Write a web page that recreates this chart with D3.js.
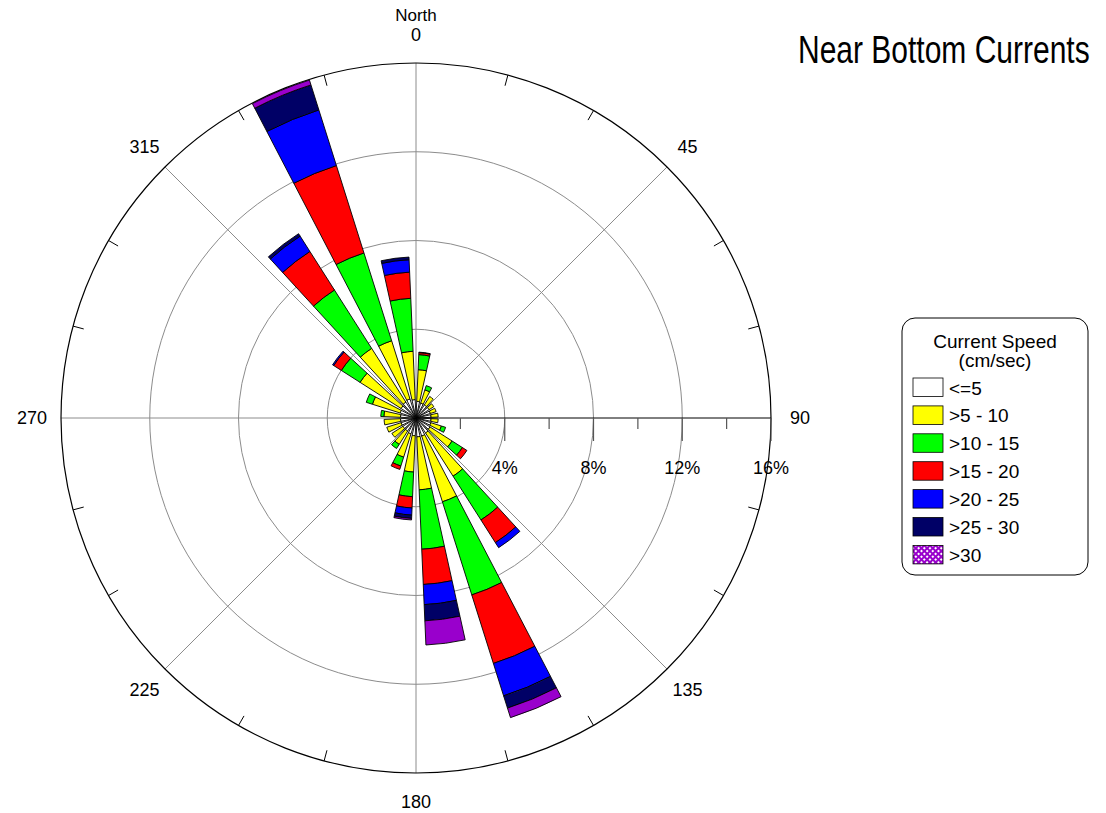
<!DOCTYPE html>
<html>
<head>
<meta charset="utf-8">
<script src="https://cdn.jsdelivr.net/npm/d3@7"></script>
<style>
  html, body { margin: 0; padding: 0; background: #fff; }
  svg { display: block; font-family: "Liberation Sans", Arial, sans-serif; }
</style>
</head>
<body>
<svg id="chart" width="1106" height="813"></svg>
<script>
// ---- data (percent of observations per direction bin and speed class) ----
const directions = [7.5, 22.5, 37.5, 52.5, 67.5, 82.5, 97.5, 112.5, 127.5, 142.5, 157.5, 172.5,
                    187.5, 202.5, 217.5, 232.5, 247.5, 262.5, 277.5, 292.5, 307.5, 322.5, 337.5, 352.5];
const speedClasses = ["<=5", ">5 - 10", ">10 - 15", ">15 - 20", ">20 - 25", ">25 - 30", ">30"];
const classColors  = ["#ffffff", "#ffff00", "#00ff00", "#ff0000", "#0000ff", "#000066", "#9900cc"];

const s0_5   = [0.75, 0.70, 0.70, 0.70, 0.68, 0.68, 0.68, 0.70, 0.75, 0.80, 0.85, 0.85, 0.80, 0.75, 0.70, 0.70, 0.70, 0.70, 0.70, 0.75, 0.80, 0.85, 0.90, 0.83];
const s5_10  = [1.43, 0.63, 0.45, 0.25, 0.27, 0.32, 0.32, 0.50, 1.18, 2.31, 3.11, 2.39, 1.64, 1.10, 0.71, 0.59, 0.68, 0.74, 0.75, 1.31, 2.19, 2.87, 2.75, 2.18];
const s10_15 = [0.68, 0.20, 0.00, 0.00, 0.00, 0.00, 0.00, 0.20, 0.55, 2.34, 4.40, 2.68, 1.11, 0.42, 0.22, 0.00, 0.00, 0.00, 0.14, 0.29, 1.00, 3.12, 4.15, 2.39];
const s15_20 = [0.09, 0.00, 0.00, 0.00, 0.00, 0.00, 0.00, 0.00, 0.24, 1.21, 3.24, 1.59, 0.51, 0.16, 0.00, 0.00, 0.00, 0.00, 0.00, 0.00, 0.41, 2.06, 4.13, 1.18];
const s20_25 = [0.02, 0.00, 0.00, 0.00, 0.00, 0.00, 0.00, 0.00, 0.00, 0.27, 1.53, 0.91, 0.32, 0.00, 0.00, 0.00, 0.00, 0.00, 0.00, 0.00, 0.06, 0.82, 2.63, 0.56];
const s25_30 = [0.00, 0.00, 0.00, 0.00, 0.00, 0.00, 0.00, 0.00, 0.00, 0.00, 0.58, 0.73, 0.15, 0.00, 0.00, 0.00, 0.00, 0.00, 0.00, 0.00, 0.00, 0.13, 1.18, 0.12];
const s30up  = [0.00, 0.00, 0.00, 0.00, 0.00, 0.00, 0.00, 0.00, 0.00, 0.00, 0.45, 1.09, 0.07, 0.00, 0.00, 0.00, 0.00, 0.00, 0.00, 0.00, 0.00, 0.00, 0.23, 0.00];

const radialTicks = [2, 4, 6, 8, 10, 12, 14, 16];
const ringValues = [4, 8, 12];
const percentLabels = ["4%", "8%", "12%", "16%"];
const percentLabelValues = [4, 8, 12, 16];
const compassLabels = ["0", "45", "90", "135", "180", "225", "270", "315"];
const compassAngles = [0, 45, 90, 135, 180, 225, 270, 315];
const titleText = "Near Bottom Currents";
const legendTitle = ["Current Speed", "(cm/sec)"];

// ---- build table ----
const series = [s0_5, s5_10, s10_15, s15_20, s20_25, s25_30, s30up];
const table = directions.map((dir, i) => {
  const row = { dir };
  speedClasses.forEach((k, j) => row[k] = series[j][i]);
  return row;
});

const svg = d3.select("#chart");
const cx = 416, cy = 418, R = 355;
const rScale = d3.scaleLinear().domain([0, 16]).range([0, R]);
const toRad = d => d * Math.PI / 180;
const halfWidth = 5; // degrees

const defs = svg.append("defs");
const pat = defs.append("pattern").attr("id", "hatch30")
  .attr("patternUnits", "userSpaceOnUse").attr("width", 4).attr("height", 4)
  .attr("patternTransform", "rotate(45)");
pat.append("rect").attr("width", 4).attr("height", 4).attr("fill", "#9900cc");
pat.append("rect").attr("x", 1).attr("y", 1).attr("width", 2).attr("height", 2).attr("fill", "#ffffff");

const g = svg.append("g").attr("transform", `translate(${cx},${cy})`);

// grid circles
g.selectAll("circle.ring").data(ringValues).join("circle")
  .attr("class", "ring").attr("r", d => rScale(d))
  .attr("fill", "none").attr("stroke", "#8c8c8c").attr("stroke-width", 1);

// radial gray lines
g.selectAll("line.spoke").data(compassAngles.filter(a => a !== 90)).join("line")
  .attr("x1", 0).attr("y1", 0)
  .attr("x2", a => R * Math.sin(toRad(a)))
  .attr("y2", a => -R * Math.cos(toRad(a)))
  .attr("stroke", "#8c8c8c").attr("stroke-width", 1);

// outer circle
g.append("circle").attr("r", R).attr("fill", "none").attr("stroke", "#000").attr("stroke-width", 1.2);

// outer ticks every 15 deg (not at 45 multiples)
const outerTicks = d3.range(0, 360, 15).filter(a => a % 45 !== 0);
g.selectAll("line.otick").data(outerTicks).join("line")
  .attr("x1", a => R * Math.sin(toRad(a))).attr("y1", a => -R * Math.cos(toRad(a)))
  .attr("x2", a => (R - 11) * Math.sin(toRad(a))).attr("y2", a => -(R - 11) * Math.cos(toRad(a)))
  .attr("stroke", "#000").attr("stroke-width", 1);

// bars
const stack = d3.stack().keys(speedClasses);
const stacked = stack(table);
const arc = d3.arc()
  .innerRadius(d => rScale(d[0]))
  .outerRadius(d => rScale(d[1]))
  .startAngle(d => toRad(d.data.dir - halfWidth))
  .endAngle(d => toRad(d.data.dir + halfWidth));

g.selectAll("g.layer").data(stacked).join("g")
  .attr("class", "layer")
  .attr("fill", (d, i) => classColors[i])
  .selectAll("path").data(d => d.filter(s => s[1] - s[0] > 0.0001)).join("path")
  .attr("d", arc)
  .attr("stroke", "#000").attr("stroke-width", 0.9).attr("stroke-linejoin", "miter");

// radial axis along 90 deg
g.append("line").attr("x1", 0).attr("y1", 0).attr("x2", R).attr("y2", 0)
  .attr("stroke", "#000").attr("stroke-width", 1);
g.selectAll("line.rtick").data(radialTicks).join("line")
  .attr("x1", d => rScale(d)).attr("x2", d => rScale(d))
  .attr("y1", 0).attr("y2", d => (d % 4 === 0 ? 23 : 11))
  .attr("stroke", "#555").attr("stroke-width", 1.2);

g.selectAll("text.plabel").data(percentLabels).join("text")
  .attr("x", (d, i) => rScale(percentLabelValues[i]))
  .attr("y", 56)
  .attr("text-anchor", "middle")
  .attr("font-size", 18).attr("fill", "#000")
  .text(d => d);

// compass labels
g.selectAll("text.clabel").data(compassLabels).join("text")
  .attr("x", (d, i) => 384 * Math.sin(toRad(compassAngles[i])))
  .attr("y", (d, i) => -384 * Math.cos(toRad(compassAngles[i])) + (compassAngles[i] === 0 ? 1 : 0))
  .attr("dy", "0.36em")
  .attr("text-anchor", "middle")
  .attr("font-size", 18).attr("fill", "#000")
  .text(d => d);
g.append("text").attr("x", 0).attr("y", -397).attr("text-anchor", "middle")
  .attr("font-size", 17).attr("fill", "#000").text("North");

// title (condensed look: natural width, stretched vertically)
svg.append("text").attr("transform", "translate(798,63) scale(1,1.27)")
  .attr("font-size", 30)
  .attr("fill", "#000").text(titleText);

// legend
const lg = svg.append("g").attr("transform", "translate(902,318)");
lg.append("rect").attr("x", 0).attr("y", 0).attr("width", 186).attr("height", 257)
  .attr("rx", 13).attr("ry", 13).attr("fill", "#fff").attr("stroke", "#000").attr("stroke-width", 1);
lg.selectAll("text.lt").data(legendTitle).join("text")
  .attr("x", 93).attr("y", (d, i) => 30 + i * 19)
  .attr("text-anchor", "middle").attr("font-size", 19).attr("fill", "#000")
  .text(d => d);
const items = lg.selectAll("g.item").data(speedClasses).join("g")
  .attr("transform", (d, i) => `translate(11,${60 + i * 27.9})`);
items.append("rect").attr("width", 30).attr("height", 18.5)
  .attr("fill", (d, i) => i === 6 ? "url(#hatch30)" : classColors[i])
  .attr("stroke", "#000").attr("stroke-width", 0.8);
items.append("text").attr("x", 36).attr("y", 16.5)
  .attr("font-size", 19).attr("fill", "#000").text(d => d);
</script>
</body>
</html>
